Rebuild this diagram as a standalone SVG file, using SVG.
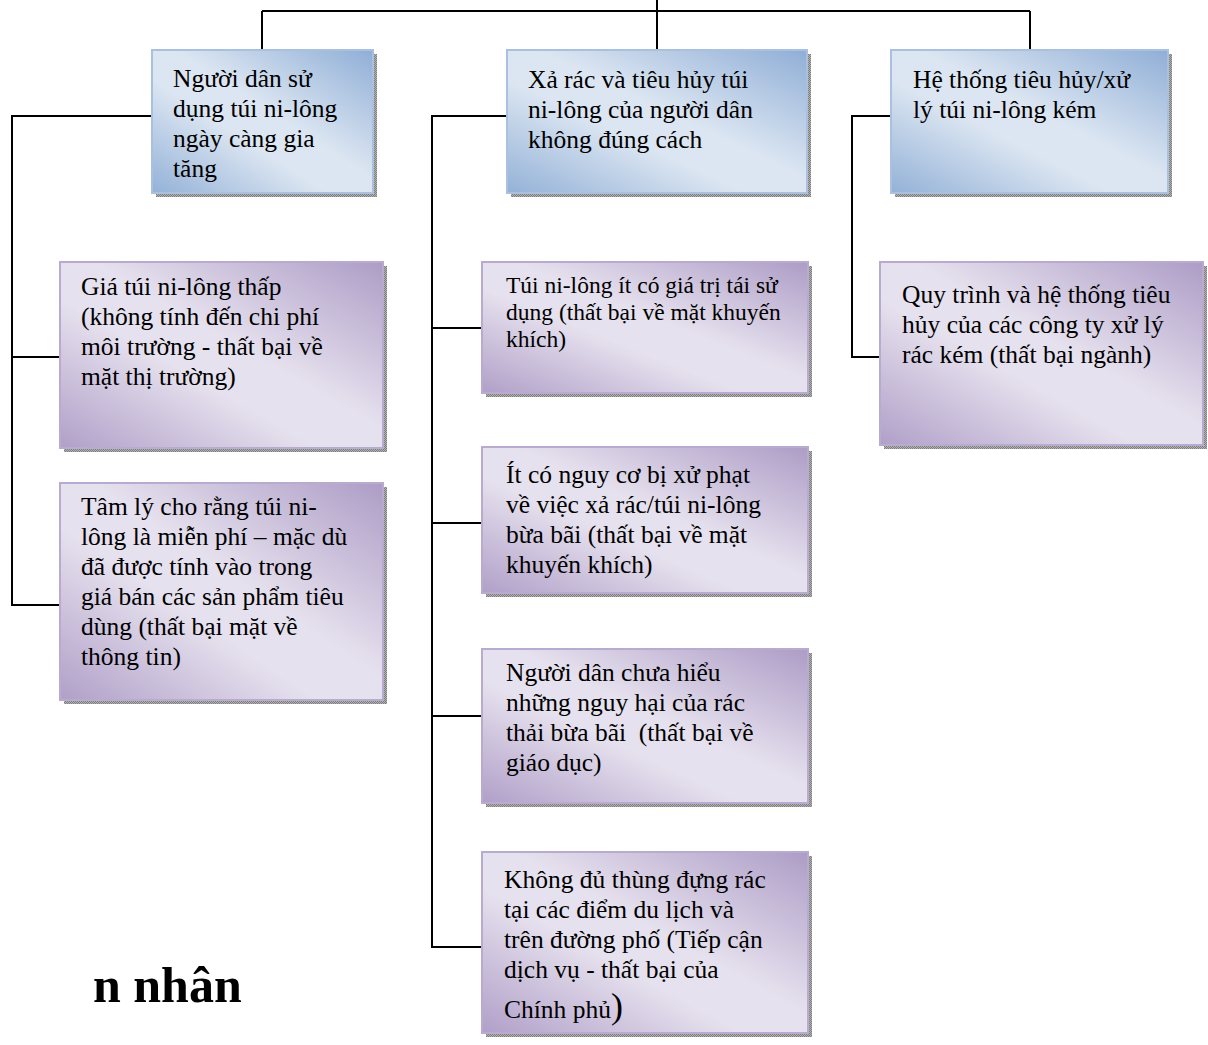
<svg xmlns="http://www.w3.org/2000/svg" width="1208" height="1045" viewBox="0 0 1208 1045">
  <defs>
    <linearGradient id="gBlue" x1="1" y1="0" x2="0" y2="1">
      <stop offset="0" stop-color="#8FAED6"/>
      <stop offset="0.45" stop-color="#DCE6F2"/>
      <stop offset="0.6" stop-color="#DCE6F2"/>
      <stop offset="1" stop-color="#93B1D7"/>
    </linearGradient>
    <linearGradient id="gPurple" x1="1" y1="0" x2="0" y2="1">
      <stop offset="0" stop-color="#AD9CC6"/>
      <stop offset="0.45" stop-color="#E6E1EE"/>
      <stop offset="0.6" stop-color="#E6E1EE"/>
      <stop offset="1" stop-color="#B09FC8"/>
    </linearGradient>
    <pattern id="stipple" width="2" height="2" patternUnits="userSpaceOnUse">
      <rect width="2" height="2" fill="#B0B0B0"/>
      <rect width="1" height="1" fill="#808080"/>
      <rect x="1" y="1" width="1" height="1" fill="#808080"/>
    </pattern>
  </defs>
  <style>
    .shadow { fill: url(#stipple); }
    .blue { fill: url(#gBlue); stroke: #A9C1DF; stroke-width: 2; }
    .purple { fill: url(#gPurple); stroke: #B9AACF; stroke-width: 2; }
    .t { font-family: "Liberation Serif", "Times New Roman", serif; font-size: 25.5px; fill: #000; }
    .ts { font-family: "Liberation Serif", "Times New Roman", serif; font-size: 23.5px; fill: #000; }
    .big { font-family: "Liberation Serif", "Times New Roman", serif; font-size: 50px; font-weight: bold; fill: #000; }
    .link { fill: none; stroke: #000; stroke-width: 2; }
  </style>

  <rect width="1208" height="1045" fill="#FFFFFF"/>

  <!-- tree connectors -->
  <g id="connectors">
    <path class="link" d="M657,0 V11 M262,11 H1030 M262,11 V50 M657,11 V50 M1030,11 V50"/>
    <path class="link" d="M152,116 H12 V605 H60 M12,357 H60"/>
    <path class="link" d="M507,116 H432 V947 H482 M432,328 H482 M432,523 H482 M432,716 H482"/>
    <path class="link" d="M891,116 H852 V357 H880"/>
  </g>

  <g id="node-use">
    <rect class="shadow" x="156" y="54" width="221" height="143"/>
    <rect class="blue" x="152" y="50" width="221" height="143"/>
    <text class="t"><tspan x="173" y="87">Người dân sử</tspan><tspan x="173" y="117">dụng túi ni-lông</tspan><tspan x="173" y="147">ngày càng gia</tspan><tspan x="173" y="177">tăng</tspan></text>
  </g>

  <g id="node-dispose">
    <rect class="shadow" x="511" y="54" width="300" height="143"/>
    <rect class="blue" x="507" y="50" width="300" height="143"/>
    <text class="t"><tspan x="528" y="88">Xả rác và tiêu hủy túi</tspan><tspan x="528" y="118">ni-lông của người dân</tspan><tspan x="528" y="148">không đúng cách</tspan></text>
  </g>

  <g id="node-system">
    <rect class="shadow" x="895" y="54" width="277" height="143"/>
    <rect class="blue" x="891" y="50" width="277" height="143"/>
    <text class="t"><tspan x="913" y="88">Hệ thống tiêu hủy/xử</tspan><tspan x="913" y="118">lý túi ni-lông kém</tspan></text>
  </g>

  <g id="node-price">
    <rect class="shadow" x="64" y="266" width="323" height="186"/>
    <rect class="purple" x="60" y="262" width="323" height="186"/>
    <text class="t"><tspan x="81" y="295">Giá túi ni-lông thấp</tspan><tspan x="81" y="325">(không tính đến chi phí</tspan><tspan x="81" y="355">môi trường - thất bại về</tspan><tspan x="81" y="385">mặt thị trường)</tspan></text>
  </g>

  <g id="node-free">
    <rect class="shadow" x="64" y="487" width="323" height="217"/>
    <rect class="purple" x="60" y="483" width="323" height="217"/>
    <text class="t"><tspan x="81" y="515">Tâm lý cho rằng túi ni-</tspan><tspan x="81" y="545">lông là miễn phí – mặc dù</tspan><tspan x="81" y="575">đã được tính vào trong</tspan><tspan x="81" y="605">giá bán các sản phẩm tiêu</tspan><tspan x="81" y="635">dùng (thất bại mặt về</tspan><tspan x="81" y="665">thông tin)</tspan></text>
  </g>

  <g id="node-reuse">
    <rect class="shadow" x="486" y="266" width="326" height="131"/>
    <rect class="purple" x="482" y="262" width="326" height="131"/>
    <text class="ts"><tspan x="506" y="293">Túi ni-lông ít có giá trị tái sử</tspan><tspan x="506" y="320">dụng (thất bại về mặt khuyến</tspan><tspan x="506" y="347">khích)</tspan></text>
  </g>

  <g id="node-penalty">
    <rect class="shadow" x="486" y="451" width="326" height="146"/>
    <rect class="purple" x="482" y="447" width="326" height="146"/>
    <text class="t"><tspan x="506" y="483">Ít có nguy cơ bị xử phạt</tspan><tspan x="506" y="513">về việc xả rác/túi ni-lông</tspan><tspan x="506" y="543">bừa bãi (thất bại về mặt</tspan><tspan x="506" y="573">khuyến khích)</tspan></text>
  </g>

  <g id="node-awareness">
    <rect class="shadow" x="486" y="653" width="326" height="154"/>
    <rect class="purple" x="482" y="649" width="326" height="154"/>
    <text class="t"><tspan x="506" y="681">Người dân chưa hiểu</tspan><tspan x="506" y="711">những nguy hại của rác</tspan><tspan x="506" y="741">thải bừa bãi &#160;(thất bại về</tspan><tspan x="506" y="771">giáo dục)</tspan></text>
  </g>

  <g id="node-bins">
    <rect class="shadow" x="486" y="856" width="326" height="181"/>
    <rect class="purple" x="482" y="852" width="326" height="181"/>
    <text class="t"><tspan x="504" y="888">Không đủ thùng đựng rác</tspan><tspan x="504" y="918">tại các điểm du lịch và</tspan><tspan x="504" y="948">trên đường phố (Tiếp cận</tspan><tspan x="504" y="978">dịch vụ - thất bại của</tspan><tspan x="504" y="1018">Chính phủ</tspan><tspan font-size="36">)</tspan></text>
  </g>

  <g id="node-industry">
    <rect class="shadow" x="884" y="266" width="323" height="183"/>
    <rect class="purple" x="880" y="262" width="323" height="183"/>
    <text class="t"><tspan x="902" y="303">Quy trình và hệ thống tiêu</tspan><tspan x="902" y="333">hủy của các công ty xử lý</tspan><tspan x="902" y="363">rác kém (thất bại ngành)</tspan></text>
  </g>

  <text class="big" x="93" y="1002">n nhân</text>
</svg>
